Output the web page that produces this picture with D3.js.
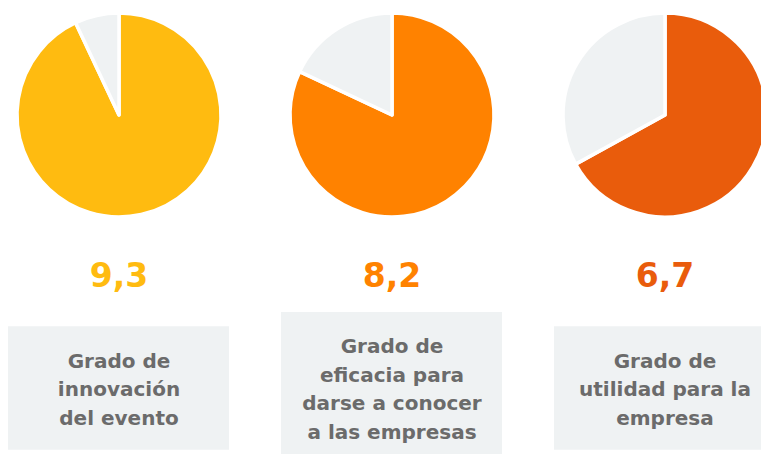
<!DOCTYPE html>
<html>
<head>
<meta charset="utf-8">
<script src="https://cdn.jsdelivr.net/npm/d3@7"></script>
<style>
  body { margin: 0; background: #ffffff; }
  svg { display: block; }
</style>
</head>
<body>
<div id="chart"></div>
<script>
// data
const categories = ["innovacion", "eficacia", "utilidad"];
const scores = [9.3, 8.2, 6.7];
const maxScore = 10;
const scoreLabels = ["9,3", "8,2", "6,7"];
const descriptions = [
  ["Grado de", "innovación", "del evento"],
  ["Grado de", "eficacia para", "darse a conocer", "a las empresas"],
  ["Grado de", "utilidad para la", "empresa"]
];
const colors = ["#FFBB10", "#FF8200", "#E95C0C"];

const width = 761, height = 454;
const radius = 102;
const lineH = 28.5;

const svg = d3.select("#chart").append("svg")
  .attr("width", width)
  .attr("height", height);

const x = d3.scalePoint()
  .domain(categories)
  .range([119, 665]);

const pie = d3.pie().sort(null).value(d => d);
const arc = d3.arc().innerRadius(0).outerRadius(radius);

const groups = svg.selectAll("g.item")
  .data(categories)
  .join("g")
  .attr("class", "item")
  .attr("transform", d => `translate(${x(d)},0)`);

// pies
groups.each(function(d, i) {
  const g = d3.select(this).append("g")
    .attr("transform", "translate(0,115)");
  g.selectAll("path")
    .data(pie([scores[i], maxScore - scores[i]]))
    .join("path")
    .attr("d", arc)
    .attr("fill", (s, j) => j === 0 ? colors[i] : "#EFF2F3")
    .attr("stroke", "#ffffff")
    .attr("stroke-width", 3.5)
    .attr("stroke-linejoin", "round");
});

// score numbers
groups.append("text")
  .attr("x", 0)
  .attr("y", 287)
  .attr("text-anchor", "middle")
  .style("font-family", "DejaVu Sans, sans-serif")
  .style("font-weight", "bold")
  .style("font-size", "33px")
  .attr("fill", (d, i) => colors[i])
  .text((d, i) => scoreLabels[i]);

// description boxes
const boxCenter = 388;
groups.each(function(d, i) {
  const lines = descriptions[i];
  const h = lines.length * lineH + 38;
  const g = d3.select(this);
  g.append("rect")
    .attr("x", -111)
    .attr("y", boxCenter - h / 2)
    .attr("width", 221)
    .attr("height", h)
    .attr("fill", "#EFF2F3");
  g.append("text")
    .attr("text-anchor", "middle")
    .style("font-family", "DejaVu Sans, sans-serif")
    .style("font-weight", "bold")
    .style("font-size", "20px")
    .attr("fill", "#6B6B6B")
    .selectAll("tspan")
    .data(lines)
    .join("tspan")
    .attr("x", 0)
    .attr("y", (t, j) => boxCenter + 8 + (j - (lines.length - 1) / 2) * lineH)
    .text(t => t);
});
</script>
</body>
</html>
